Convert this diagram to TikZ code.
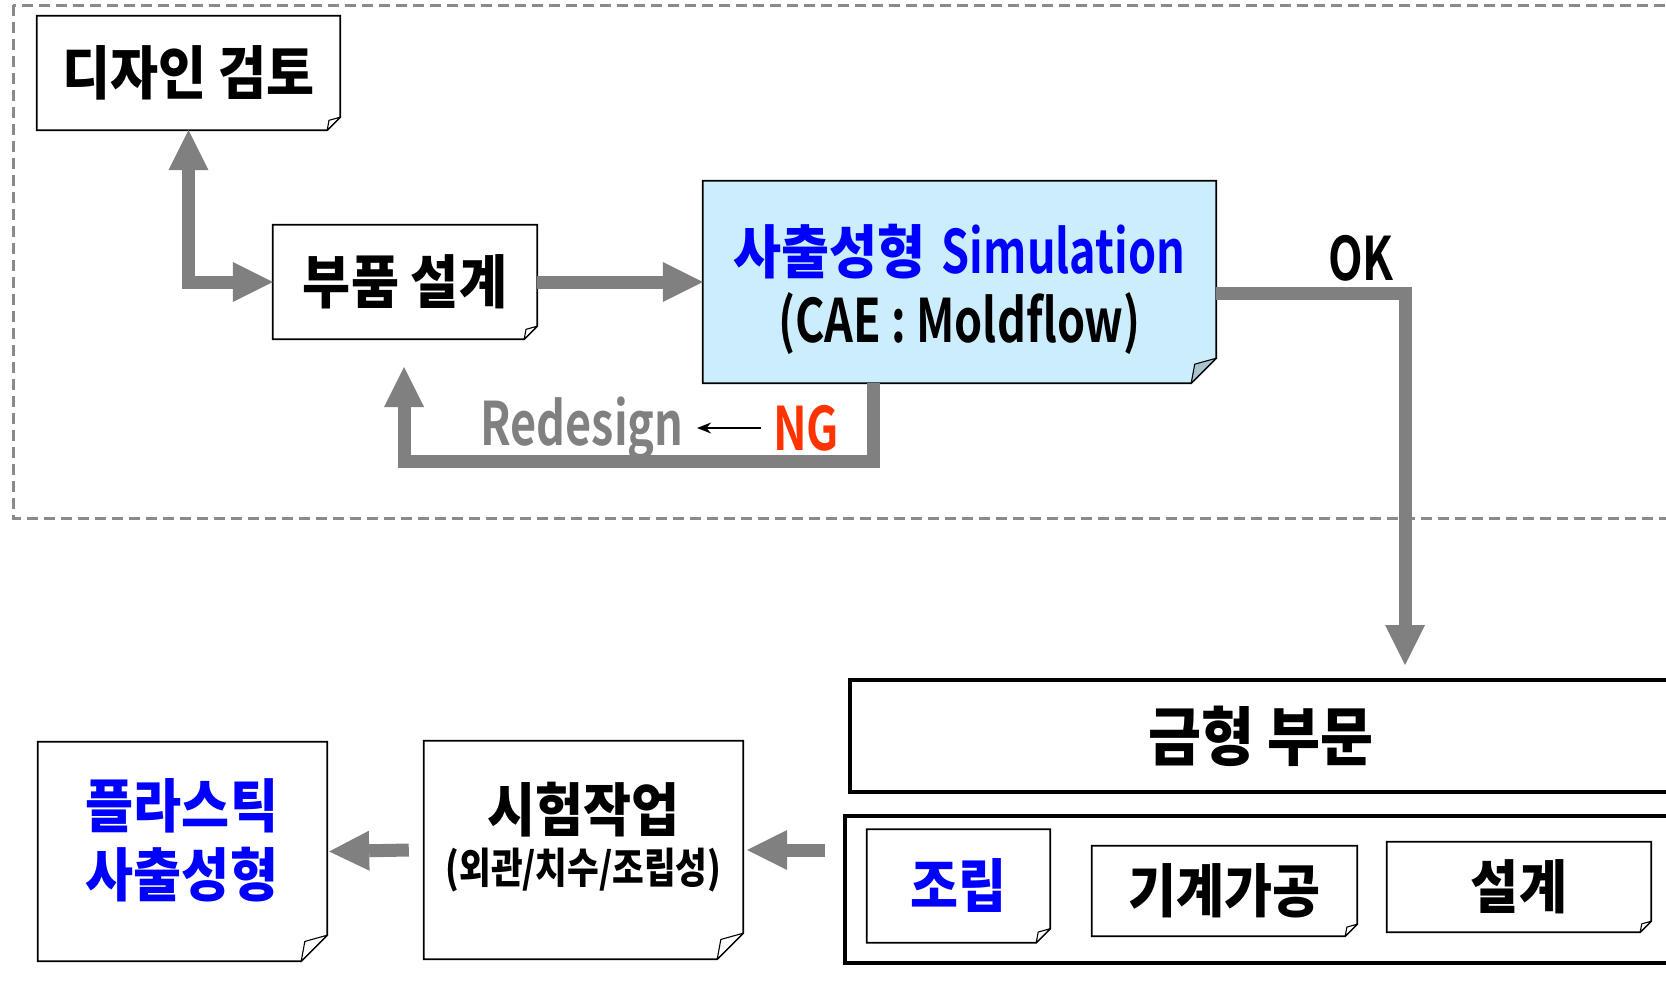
\documentclass[tikz,border=0pt]{standalone}
\usepackage{fontspec}
\usetikzlibrary{arrows.meta,calc,backgrounds}
\newfontfamily\krK{Noto Sans CJK KR Black}[FakeStretch=0.9]
\newfontfamily\krKn{Noto Sans CJK KR Black}[FakeStretch=0.82]
\newfontfamily\latB{Noto Sans CJK KR Bold}[FakeStretch=0.75]
\definecolor{arrowgray}{HTML}{808080}
\definecolor{framegray}{HTML}{8A8A8A}
\definecolor{simfill}{HTML}{CCEEFC}
\definecolor{simflap}{HTML}{A9C4CF}
\definecolor{ngred}{HTML}{FF3300}
\definecolor{txtblue}{HTML}{0000FF}
\newcommand\kt{\krK\fontsize{58}{64}\selectfont}
\newcommand\kbig{\krK\fontsize{64}{70}\selectfont}
\newcommand\ksmall{\krKn\fontsize{42}{48}\selectfont}
\newcommand\lt{\latB\fontsize{60}{64}\selectfont}
% sheet with a turned-down bottom-right corner, drawn under the named node
\newcommand\dogear[5]{% node, corner size, line width, body fill, flap fill
  \begin{scope}[on background layer]
    \draw[line width=#3, fill=#4, line join=miter]
      (#1.north west) -- (#1.north east) -- ([yshift=#2]#1.south east)
      -- ([xshift=-#2]#1.south east) -- (#1.south west) -- cycle;
    \draw[line width=1.1pt, fill=#5, line join=round]
      ([xshift=-#2]#1.south east)
      .. controls ([xshift=-0.92*#2, yshift=0.4*#2]#1.south east) ..
      ([xshift=-0.86*#2, yshift=0.76*#2]#1.south east)
      -- ([yshift=#2]#1.south east) -- cycle;
  \end{scope}}
\begin{document}
\begin{tikzpicture}[x=1pt,y=-1pt,
  sheet/.style={inner sep=0pt, align=center},
  flow/.style={draw=arrowgray, line width=13pt, line join=miter,
    -{Triangle[width=40pt,length=40pt,line width=0pt]}},
  flowboth/.style={draw=arrowgray, line width=13pt, line join=miter,
    {Triangle[width=40pt,length=40pt,line width=0pt]}-{Triangle[width=40pt,length=40pt,line width=0pt]}},
  frame/.style={draw=framegray, line width=3pt, dash pattern=on 11pt off 6pt},
  heavybox/.style={draw=black, line width=4pt, inner sep=0pt}]
\useasboundingbox (0,0) rectangle (1666,986);

% upper group frame
\draw[frame] (13,5) rectangle (1720,518);

% upper flow
\node[sheet, minimum width=303pt, minimum height=114pt, font=\kt] (dz) at (188.5,73) {디자인 검토};
\node[sheet, minimum width=264pt, minimum height=114pt, font=\kt] (bp) at (405,282) {부품 설계};
\node[sheet, minimum width=513pt, minimum height=202pt] (sim) at (959.5,282) {};
\node[text=txtblue] (simA) at (959.5,252) {{\kt 사출성형}\hspace{16pt}{\lt Simulation}};
\node (simB) at (959.5,324) {\lt (CAE : Moldflow)};
\dogear{dz}{13pt}{1.8pt}{white}{white}
\dogear{bp}{13pt}{1.8pt}{white}{white}
\dogear{sim}{25pt}{1.8pt}{simfill}{simflap}

\draw[flowboth] (dz.south) |- (bp.west);
\draw[flow] (bp.east) -- (sim.west);

% redesign loop
\coordinate (ngturn) at (873,461);
\coordinate (ngleft) at (404,461);
\coordinate (ngtip) at (404,367);
\draw[flow] (sim.south -| ngturn) -- (ngturn) -- (ngleft) -- (ngtip);
\node[text=arrowgray, font=\lt] (redesign) at (582,428) {Redesign};
\node[text=ngred, font=\lt] (ng) at (806,428) {NG};
\draw[line width=1.6pt, -{Stealth[length=14pt,width=11pt]}] ([xshift=-8pt]ng.west) -- ([xshift=10pt]redesign.east);

% approval path
\coordinate (oktip) at (1405,665);
\draw[flow] ([yshift=-11pt]sim.east) -| (oktip);
\node[font=\lt] (ok) at (1361,258) {OK};

% tooling department
\node[heavybox, minimum width=822pt, minimum height=112pt, font=\kbig] (gm) at (1261,736) {금형 부문};
\node[heavybox, minimum width=845pt, minimum height=147pt] (base) at (1267.5,889.5) {};
\node[sheet, minimum width=183pt, minimum height=113pt, font=\kt, text=txtblue] (jo) at (958.5,886) {조립};
\node[sheet, minimum width=265pt, minimum height=90pt, font=\kt] (gi) at (1224.5,891) {기계가공};
\node[sheet, minimum width=264pt, minimum height=90pt, font=\kt] (sg) at (1519,887) {설계};
\dogear{jo}{14pt}{1.8pt}{white}{white}
\dogear{gi}{12pt}{1.8pt}{white}{white}
\dogear{sg}{11pt}{1.8pt}{white}{white}

% trial and production
\node[sheet, minimum width=319pt, minimum height=218pt] (sh) at (583.5,850) {};
\node (shA) at (583.5,810) {\kt 시험작업};
\node (shB) at (583.5,870) {\ksmall (외관/치수/조립성)};
\node[sheet, minimum width=289pt, minimum height=219pt] (pl) at (182.5,851.5) {};
\node[text=txtblue] (plA) at (182,806) {\kt 플라스틱};
\node[text=txtblue] (plB) at (182,875) {\kt 사출성형};
\dogear{sh}{26pt}{1.8pt}{white}{white}
\dogear{pl}{26pt}{1.8pt}{white}{white}

\draw[flow] ([xshift=-18pt]base.west |- sh.east) -- ([xshift=4pt]sh.east);
\draw[flow] ([xshift=-15pt]sh.west) -- ([xshift=2pt]pl.east);
\end{tikzpicture}
\end{document}
